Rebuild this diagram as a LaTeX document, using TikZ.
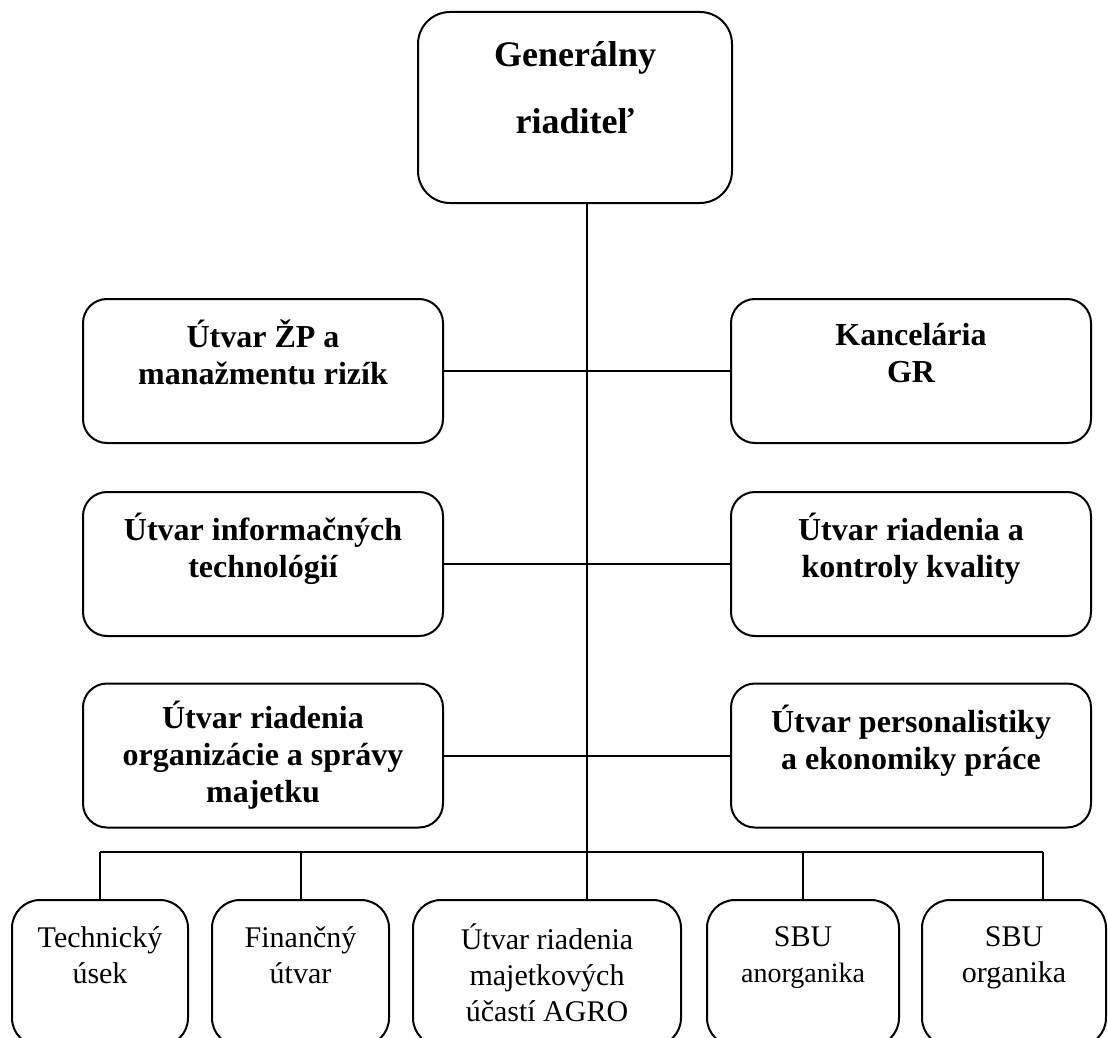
\documentclass[tikz,border=0pt]{standalone}
\usepackage{fontspec}
\setmainfont{Liberation Serif}

\begin{document}
\begin{tikzpicture}[x=0.5pt, y=-0.5pt,
    box/.style={draw, line width=1pt, align=center, inner sep=0pt},
    head/.style={box, rounded corners=16pt, minimum width=157pt, minimum height=95.5pt,
      font=\bfseries\fontsize{18}{33.5}\selectfont},
    staff/.style={box, rounded corners=12pt, minimum width=180pt, minimum height=72pt,
      font=\bfseries\fontsize{16}{18.5}\selectfont},
    unit/.style={box, rounded corners=14pt, minimum height=73pt,
      font=\fontsize{15}{18}\selectfont},
    link/.style={line width=1pt}]
  \useasboundingbox (0,0) rectangle (1108,1038);

  \node[head] (gr) at (575,107.5) {Generálny\\riaditeľ\\[-13pt]\mbox{}};

  \node[staff] (zp)   at (263,371)   {Útvar ŽP a\\manažmentu rizík\\\mbox{}};
  \node[staff] (kanc) at (911,371)   {Kancelária\\GR\\\mbox{}};
  \node[staff] (it)   at (263,564)   {Útvar informačných\\technológií\\\mbox{}};
  \node[staff] (kval) at (911,564)   {Útvar riadenia a\\kontroly kvality\\\mbox{}};
  \node[staff] (maj)  at (263,755.5) {Útvar riadenia\\organizácie a správy\\majetku};
  \node[staff] (pers) at (911,755.5) {Útvar personalistiky\\a ekonomiky práce\\\mbox{}};

  \node[unit, minimum width=88pt]  (tech)  at (100,973)  {Technický\\úsek\\\mbox{}};
  \node[unit, minimum width=88.5pt] (fin)  at (300.5,973) {Finančný\\útvar\\\mbox{}};
  \node[unit, minimum width=134pt] (agro)  at (547,973)  {Útvar riadenia\\majetkových\\účastí AGRO};
  \node[unit, minimum width=96pt]  (anorg) at (803,973)
    {SBU\\{\fontsize{14}{18}\selectfont anorganika}\\\mbox{}};
  \node[unit, minimum width=92pt]  (org)   at (1014,973) {SBU\\organika\\\mbox{}};

  % bus above the bottom row
  \coordinate (bus)  at (587,852);
  \coordinate (busR) at (1043,852);

  \draw[link] (gr.south -| bus) -- (agro.north -| bus);
  \draw[link] (zp.east) -- (kanc.west);
  \draw[link] (it.east) -- (kval.west);
  \draw[link] (maj.east) -- (pers.west);

  \draw[link] (tech.north |- bus) -- (busR);
  \draw[link] (tech.north) -- (tech.north |- bus);
  \draw[link] (fin.north) -- (fin.north |- bus);
  \draw[link] (anorg.north) -- (anorg.north |- bus);
  \draw[link] (org.north -| busR) -- (busR);
\end{tikzpicture}
\end{document}
